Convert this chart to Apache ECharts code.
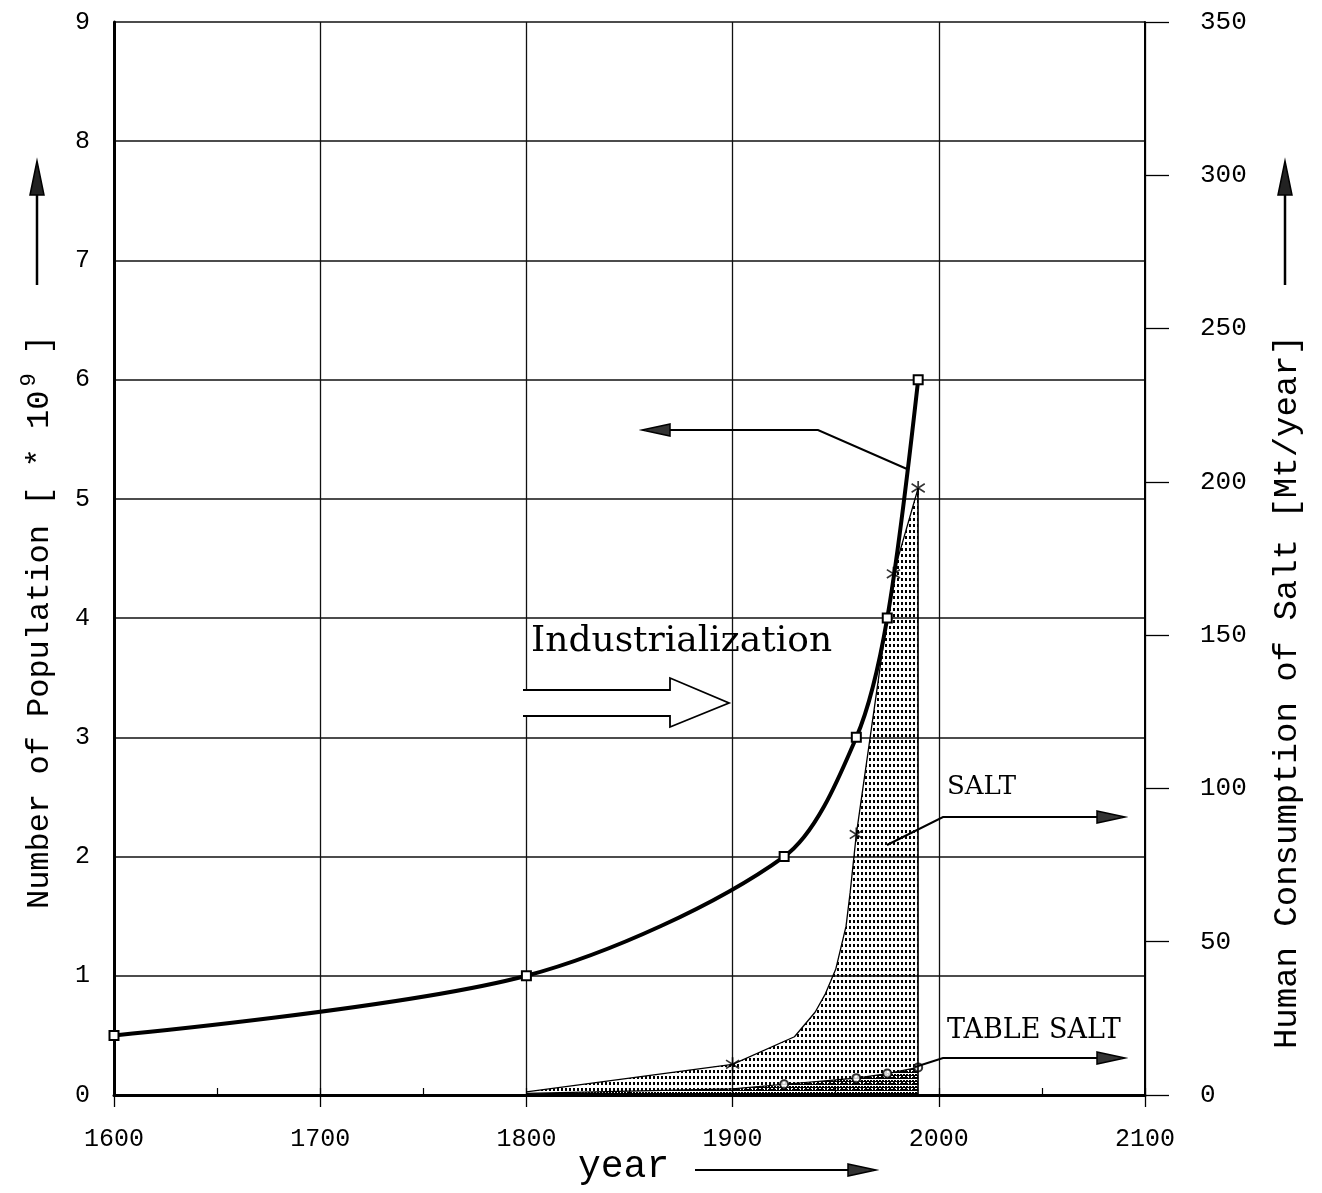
<!DOCTYPE html>
<html>
<head>
<meta charset="utf-8">
<script src="https://cdn.jsdelivr.net/npm/echarts@6/dist/echarts.min.js"></script>
<style>
html,body{margin:0;padding:0;background:#fff;}
#chart{width:1322px;height:1193px;}
</style>
</head>
<body>
<div id="chart"></div>
<script>
// ---- data ----
const popYears = [1600, 1800, 1925, 1960, 1975, 1990];
const popValues = [0.5, 1.0, 2.0, 3.0, 4.0, 6.0];

const saltYears = [1800, 1900, 1930, 1940, 1945, 1950, 1955, 1957, 1960, 1978, 1990];
const saltValues = [1, 10, 19, 27, 33, 41, 55, 66, 85, 170, 198];
const saltMarkerYears = [1900, 1960, 1978, 1990];

const tableYears = [1800, 1900, 1925, 1960, 1975, 1990];
const tableValues = [0.5, 2, 3.5, 5.5, 7, 9];
const tableMarkerYears = [1925, 1960, 1975, 1990];

const xTicks = {min: 1600, max: 2100, step: 100};
const popTicks = {min: 0, max: 9, step: 1};
const saltTicks = {min: 0, max: 350, step: 50};

// ---- helpers ----
const zip = (a, b) => a.map((v, i) => [v, b[i]]);
const pick = (ys, vs, keep) => zip(ys, vs).filter(p => keep.includes(p[0]));

function dotPattern(w, h, dots) {
  const c = document.createElement('canvas');
  c.width = w; c.height = h;
  const ctx = c.getContext('2d');
  ctx.fillStyle = '#000';
  dots.forEach(d => ctx.fillRect(d[0], d[1], d[2], d[3]));
  return c;
}
const saltPattern = dotPattern(4, 6, [[1, 2, 2, 3]]);
const tablePattern = dotPattern(3, 3, [[0, 0, 2, 2], [2, 1, 1, 1]]);

const asterisk = 'path://M4.4,0H5.6V10H4.4Z M0.1,2.5L0.7,1.5L9.9,7.5L9.3,8.5Z M0.1,7.5L9.3,1.5L9.9,2.5L0.7,8.5Z';

const mono = 'Liberation Mono';
const serif = 'DejaVu Serif';

const saltData = zip(saltYears, saltValues);
const lastSalt = saltData[saltData.length - 1];

const chart = echarts.init(document.getElementById('chart'), null, {renderer: 'canvas'});

function arrowRight(x, y, len, half) {
  return {type: 'polygon', shape: {points: [[x, y - half], [x + len, y], [x, y + half]]},
    style: {fill: '#333', stroke: '#000', lineWidth: 1.5}, z: 50};
}
function arrowLeft(x, y, len, half) {
  return {type: 'polygon', shape: {points: [[x, y - half], [x - len, y], [x, y + half]]},
    style: {fill: '#333', stroke: '#000', lineWidth: 1.5}, z: 50};
}
function arrowUp(x, y, len, half) {
  return {type: 'polygon', shape: {points: [[x - half, y], [x, y - len], [x + half, y]]},
    style: {fill: '#222', stroke: '#000', lineWidth: 1.5}, z: 50};
}
function line(points, w) {
  return {type: 'polyline', shape: {points: points}, style: {stroke: '#000', lineWidth: w || 2, fill: null}, z: 50};
}
function label(x, y, text, family, size) {
  return {type: 'text', left: x, top: y, style: {text: text, fontFamily: family, fontSize: size, fill: '#000'}, z: 50};
}

const option = {
  animation: false,
  backgroundColor: '#fff',
  grid: {left: 114, right: 177, top: 22, bottom: 98},
  xAxis: [{
    type: 'value', min: xTicks.min, max: xTicks.max, interval: xTicks.step,
    axisLine: {show: true, lineStyle: {color: '#000', width: 3}},
    axisTick: {show: true, length: 12, lineStyle: {color: '#000', width: 1.3}},
    splitLine: {show: true, lineStyle: {color: '#111', width: 1.3}},
    axisLabel: {margin: 32, color: '#000', fontFamily: mono, fontSize: 25, formatter: v => String(v)}
  }, {
    type: 'value', position: 'bottom', min: xTicks.min, max: xTicks.max, interval: xTicks.step / 2,
    axisLine: {show: false},
    axisTick: {show: true, inside: true, length: 7, lineStyle: {color: '#000', width: 1.2}},
    splitLine: {show: false},
    axisLabel: {show: false}
  }],
  yAxis: [{
    type: 'value', min: popTicks.min, max: popTicks.max, interval: popTicks.step,
    axisLine: {show: true, lineStyle: {color: '#000', width: 3}},
    axisTick: {show: false},
    splitLine: {show: true, lineStyle: {color: '#111', width: 1.6}},
    axisLabel: {margin: 24, color: '#000', fontFamily: mono, fontSize: 25}
  }, {
    type: 'value', position: 'right', min: saltTicks.min, max: saltTicks.max, interval: saltTicks.step,
    axisLine: {show: true, lineStyle: {color: '#000', width: 2}},
    axisTick: {show: true, length: 24, lineStyle: {color: '#000', width: 1.3}},
    splitLine: {show: false},
    axisLabel: {margin: 55, color: '#000', fontFamily: mono, fontSize: 26}
  }],
  series: [{
    name: 'SALT', type: 'line', yAxisIndex: 1, data: saltData, symbol: 'none',
    lineStyle: {color: '#000', width: 1.3},
    areaStyle: {color: {image: saltPattern, repeat: 'repeat'}, opacity: 1},
    markLine: {
      silent: true, symbol: 'none', label: {show: false},
      lineStyle: {color: '#000', width: 1.6, type: 'solid'},
      data: [[{coord: [lastSalt[0], 0]}, {coord: lastSalt}]]
    },
    z: 2
  }, {
    name: 'TABLE SALT', type: 'line', yAxisIndex: 1, data: zip(tableYears, tableValues), symbol: 'none',
    lineStyle: {color: '#000', width: 1.2},
    areaStyle: {color: {image: tablePattern, repeat: 'repeat'}, opacity: 1},
    z: 3
  }, {
    type: 'scatter', yAxisIndex: 1, data: pick(tableYears, tableValues, tableMarkerYears),
    symbol: 'emptyCircle', symbolSize: 8,
    itemStyle: {color: '#000', borderColor: '#000', borderWidth: 1.2}, z: 4
  }, {
    type: 'scatter', yAxisIndex: 1, data: pick(saltYears, saltValues, saltMarkerYears),
    symbol: asterisk, symbolSize: 14, itemStyle: {color: '#000'}, z: 6
  }, {
    name: 'Population', type: 'line', yAxisIndex: 0, data: zip(popYears, popValues),
    smooth: 0.3,
    symbol: 'emptyRect', symbolSize: 9, showAllSymbol: true,
    lineStyle: {color: '#000', width: 4},
    itemStyle: {color: '#000', borderColor: '#000', borderWidth: 1.5},
    z: 5
  }],
  graphic: [
    // population pointer
    line([[907, 469], [818, 430], [665, 430]], 2),
    arrowLeft(670, 430, 28, 6),
    // SALT label
    label(947, 774, 'SALT', serif, 26),
    line([[887, 845], [943, 817], [1100, 817]], 2),
    arrowRight(1097, 817, 28, 6),
    // TABLE SALT label
    label(947, 1017, 'TABLE SALT', serif, 27),
    line([[915, 1067], [943, 1058], [1100, 1058]], 2),
    arrowRight(1097, 1058, 28, 6),
    // Industrialization
    label(531, 624, 'Industrialization', serif, 36),
    {type: 'polygon', shape: {points: [[523, 690], [670, 690], [670, 678], [729, 703], [670, 727], [670, 716], [523, 716]]},
      style: {fill: '#fff', stroke: null}, z: 49},
    line([[523, 690], [670, 690], [670, 678], [729, 703], [670, 727], [670, 716], [523, 716]], 1.8),
    // left axis title
    {type: 'text', x: 40, y: 622, rotation: Math.PI / 2,
      style: {text: '{a|Number of Population [ * 10}{s|9}{a| ]}', align: 'center', verticalAlign: 'middle',
        rich: {a: {fontFamily: mono, fontSize: 32, fill: '#000'}, s: {fontFamily: mono, fontSize: 22, fill: '#000', padding: [0, 0, 22, 4]}}}, z: 50},
    line([[37, 285], [37, 185]], 2.5),
    arrowUp(37, 195, 34, 7),
    // right axis title
    {type: 'text', x: 1287, y: 692, rotation: Math.PI / 2,
      style: {text: 'Human Consumption of Salt [Mt/year]', align: 'center', verticalAlign: 'middle',
        fontFamily: mono, fontSize: 34, fill: '#000'}, z: 50},
    line([[1285, 285], [1285, 185]], 2.5),
    arrowUp(1285, 195, 34, 7),
    // x axis title
    label(578, 1148, 'year', mono, 38),
    line([[695, 1170], [850, 1170]], 2),
    arrowRight(848, 1170, 28, 6)
  ]
};
chart.setOption(option);
</script>
</body>
</html>
